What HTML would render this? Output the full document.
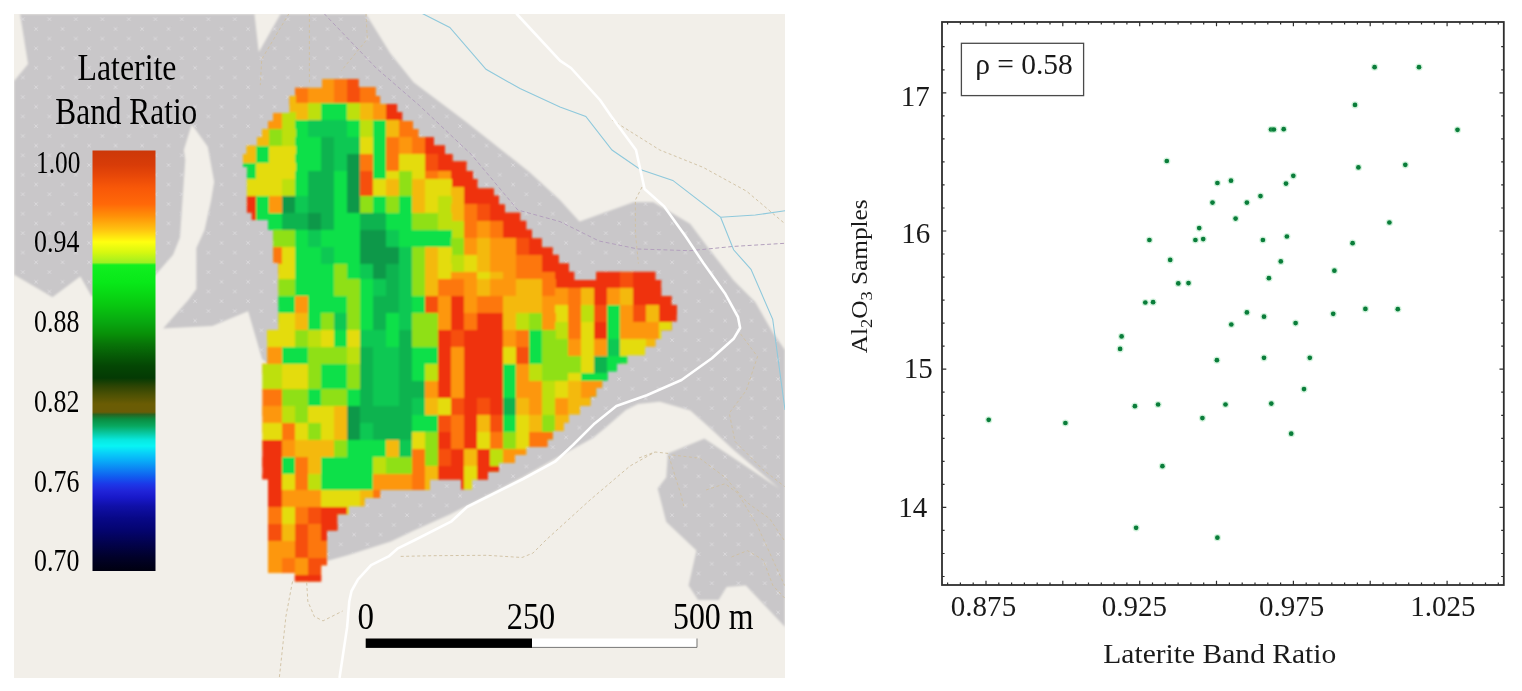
<!DOCTYPE html>
<html lang="en">
<head>
<meta charset="utf-8">
<title>Laterite Band Ratio</title>
<style>
html,body{margin:0;padding:0;background:#fff;}
body{width:1522px;height:691px;overflow:hidden;font-family:"Liberation Serif",serif;}
svg{display:block;}
</style>
</head>
<body>
<svg width="1522" height="691" viewBox="0 0 1522 691">
<rect width="1522" height="691" fill="#ffffff"/>
<defs><pattern id="xp" width="26.5" height="19.45" patternUnits="userSpaceOnUse" patternTransform="translate(4.6 4.5)"><path d="M3.3 3.3l3.4 3.4m0-3.4l-3.4 3.4M16.55 13.025l3.4 3.4m0-3.4l-3.4 3.4" stroke="#dcdbdd" stroke-width="0.9" fill="none"/></pattern><clipPath id="mapclip"><rect x="14" y="14" width="771" height="664"/></clipPath><filter id="soft" x="-2%" y="-2%" width="104%" height="104%"><feGaussianBlur stdDeviation="1"/></filter><filter id="soft2" x="-2%" y="-2%" width="104%" height="104%"><feGaussianBlur stdDeviation="0.5"/></filter></defs>
<g clip-path="url(#mapclip)">
<rect x="14" y="14" width="771" height="664" fill="#f2efe9"/>
<g filter="url(#soft)">
<rect x="0" y="0" width="800" height="691" fill="#f2efe9"/>
<polygon points="20.0,14.0 254.5,14.0 258.8,52.0 280.5,14.0 366.0,14.0 390.5,53.4 413.6,82.3 465.7,121.4 529.4,172.0 560.0,200.0 579.5,221.6 633.8,202.0 653.3,202.0 690.2,223.8 709.7,249.8 733.6,280.2 755.3,302.0 772.7,332.3 785.0,350.0 785.0,627.0 745.8,585.6 726.7,587.0 718.7,600.0 698.0,600.0 688.5,585.6 696.4,550.6 666.2,522.0 657.6,488.5 666.2,477.3 667.8,453.4 704.4,438.5 779.2,488.5 733.6,450.0 709.7,427.8 690.2,410.4 659.8,401.7 638.0,404.0 626.0,410.0 604.0,429.0 593.0,438.0 560.0,456.0 523.0,477.0 451.0,514.0 413.0,531.0 391.0,541.6 347.0,555.6 327.0,561.0 300.0,480.0 268.0,364.0 262.0,359.0 248.1,311.3 212.5,326.0 163.0,328.6 188.2,300.0 196.3,289.0 196.3,248.0 204.5,230.0 210.9,201.0 214.1,181.8 207.7,146.8 191.8,124.5 183.9,150.0 185.3,160.0 180.0,237.4 173.2,254.7 155.0,275.6 125.0,290.0 91.6,296.4 80.3,276.4 52.5,297.3 14.0,274.7 14.0,81.0 28.0,64.0" fill="#c9c7c9"/>
</g>
<g filter="url(#soft2)">
<polygon points="20.0,14.0 254.5,14.0 258.8,52.0 280.5,14.0 366.0,14.0 390.5,53.4 413.6,82.3 465.7,121.4 529.4,172.0 560.0,200.0 579.5,221.6 633.8,202.0 653.3,202.0 690.2,223.8 709.7,249.8 733.6,280.2 755.3,302.0 772.7,332.3 785.0,350.0 785.0,627.0 745.8,585.6 726.7,587.0 718.7,600.0 698.0,600.0 688.5,585.6 696.4,550.6 666.2,522.0 657.6,488.5 666.2,477.3 667.8,453.4 704.4,438.5 779.2,488.5 733.6,450.0 709.7,427.8 690.2,410.4 659.8,401.7 638.0,404.0 626.0,410.0 604.0,429.0 593.0,438.0 560.0,456.0 523.0,477.0 451.0,514.0 413.0,531.0 391.0,541.6 347.0,555.6 327.0,561.0 300.0,480.0 268.0,364.0 262.0,359.0 248.1,311.3 212.5,326.0 163.0,328.6 188.2,300.0 196.3,289.0 196.3,248.0 204.5,230.0 210.9,201.0 214.1,181.8 207.7,146.8 191.8,124.5 183.9,150.0 185.3,160.0 180.0,237.4 173.2,254.7 155.0,275.6 125.0,290.0 91.6,296.4 80.3,276.4 52.5,297.3 14.0,274.7 14.0,81.0 28.0,64.0" fill="url(#xp)"/>
</g>
<g filter="url(#soft)">
<clipPath id="hcA"><path d="M243.0 154.2H246.7L246.7 145.4H257.0L257.0 137.3H262.0L262.0 129.0H262.2L262.2 129.0H268.0L268.0 121.0H273.0L273.0 113.0H289.5L289.5 96.0H294.6L294.6 96.0H295.0L295.0 87.8H321.2L321.2 87.8H322.0L322.0 79.0H327.0L327.0 79.0H337.4L337.4 79.0H348.5L348.5 79.0H358.8L358.8 87.0H364.7L364.7 87.0H375.8L375.8 96.0H380.2L380.2 104.0H397.1L397.1 112.2H402.3L402.3 121.0H412.6L412.6 129.1H418.5L418.5 137.3H430.0L430.0 137.3H434.0L434.0 145.4H445.0L445.0 154.2H452.5L452.5 161.6H461.0L461.0 161.6H466.5L466.5 171.2H472.0L472.0 171.2H473.0L473.0 179.3H477.5L477.5 188.4H488.0L488.0 188.4H493.8L493.8 195.7H499.0L499.0 204.6H504.8L504.8 212.7H515.0L515.0 212.7H520.3L520.3 220.8H526.2L526.2 229.7H532.0L532.0 238.5H541.7L541.7 247.4H547.6L547.6 247.4H552.8L552.8 254.8H558.7L558.7 263.6H563.9L563.9 263.6H569.0L569.0 271.7H574.2L574.2 279.9H580.0L580.0 279.9H590.4L590.4 279.9H596.3L596.3 271.7H602.2L602.2 271.7H607.4L607.4 271.7H617.0L617.0 271.7H627.3L627.3 271.7H645.0L645.0 271.7H655.3L655.3 279.9H661.2L661.2 296.3H671.6L671.6 305.1H676.8L676.8 321.4H671.6L671.6 330.2H661.2L661.2 339.0H655.3L655.3 346.4H645.0L645.0 355.3H627.3L627.3 363.4H617.0L617.0 371.5H607.4L607.4 380.4H602.2L602.2 388.0H596.3L596.3 396.8H590.4L590.4 405.7H580.0L580.0 414.5H574.2L574.2 414.5H569.0L569.0 422.6H563.9L563.9 431.0H558.7L558.7 431.0H552.8L552.8 439.6H547.6L547.6 447.0H541.7L541.7 447.0H532.0L532.0 447.0H526.2L526.2 455.0H520.3L520.3 455.0H515.0L515.0 462.9H504.8L504.8 462.9H499.0L499.0 471.7H493.8L493.8 471.7H488.0L488.0 479.8H477.5L477.5 479.8H473.0L473.0 479.8H472.0L472.0 489.4H466.5L466.5 489.4H461.0L461.0 479.8H452.5L452.5 479.8H445.0L445.0 479.8H434.0L434.0 479.8H430.0L430.0 490.0H418.5L418.5 490.0H412.6L412.6 490.0H402.3L402.3 490.0H397.1L397.1 490.0H380.2L380.2 498.0H375.8L375.8 498.0H364.7L364.7 506.2H358.8L358.8 506.2H348.5L348.5 514.3H337.4L337.4 530.5H327.0L327.0 565.2H322.0L322.0 565.2H321.2L321.2 581.4H295.0L295.0 581.4H294.6L294.6 573.3H289.5L289.5 573.3H273.0L273.0 573.3H268.0L268.0 479.4H262.2L262.2 220.0H262.0L262.0 220.0H257.0L257.0 220.0H246.7L246.7 167.0H243.0Z"/></clipPath>
<clipPath id="hcB"><path d="M700 70.0L243.0 70.0V167.0L246.7 167.0V212.7L251.8 212.7V220.0L268.0 220.0V230.0L273.2 230.0V263.0L278.4 263.0V330.0L267.3 330.0V363.4L262.2 363.4V479.4L268.0 479.4V573.3L294.6 573.3V600.0L700 600.0Z"/></clipPath>
<g clip-path="url(#hcA)"><g clip-path="url(#hcB)" shape-rendering="crispEdges">
<rect x="243.0" y="65.5" width="13.5" height="39.0" fill="#fd9709"/>
<rect x="256.0" y="65.5" width="26.5" height="39.0" fill="#f4b90c"/>
<rect x="282.0" y="65.5" width="13.5" height="39.0" fill="#fd7708"/>
<rect x="295.0" y="74.0" width="13.5" height="39.0" fill="#fd7708"/>
<rect x="308.0" y="74.0" width="26.5" height="39.0" fill="#fd9709"/>
<rect x="334.0" y="74.0" width="13.5" height="39.0" fill="#fd7708"/>
<rect x="347.0" y="74.0" width="13.5" height="39.0" fill="#f65008"/>
<rect x="360.0" y="74.0" width="26.5" height="39.0" fill="#fd7708"/>
<rect x="386.0" y="74.0" width="39.5" height="39.0" fill="#ef3207"/>
<rect x="425.0" y="74.0" width="26.5" height="39.0" fill="#fd7708"/>
<rect x="451.0" y="74.0" width="26.5" height="39.0" fill="#ef3207"/>
<rect x="243.0" y="94.5" width="26.5" height="27.0" fill="#fd9709"/>
<rect x="269.0" y="94.5" width="26.5" height="27.0" fill="#f4b90c"/>
<rect x="295.0" y="103.0" width="13.5" height="27.0" fill="#f4b90c"/>
<rect x="308.0" y="103.0" width="13.5" height="27.0" fill="#bde00a"/>
<rect x="321.0" y="103.0" width="26.5" height="27.0" fill="#0ae048"/>
<rect x="347.0" y="103.0" width="13.5" height="27.0" fill="#bde00a"/>
<rect x="360.0" y="103.0" width="13.5" height="27.0" fill="#f4b90c"/>
<rect x="373.0" y="103.0" width="13.5" height="27.0" fill="#fd9709"/>
<rect x="386.0" y="103.0" width="26.5" height="27.0" fill="#ef3207"/>
<rect x="412.0" y="103.0" width="26.5" height="27.0" fill="#fd7708"/>
<rect x="438.0" y="103.0" width="52.5" height="27.0" fill="#ef3207"/>
<rect x="243.0" y="111.5" width="13.5" height="27.0" fill="#f4b90c"/>
<rect x="256.0" y="111.5" width="26.5" height="27.0" fill="#fd9709"/>
<rect x="282.0" y="111.5" width="13.5" height="27.0" fill="#bde00a"/>
<rect x="295.0" y="120.0" width="13.5" height="27.0" fill="#0ae048"/>
<rect x="308.0" y="120.0" width="39.5" height="27.0" fill="#0cc852"/>
<rect x="347.0" y="120.0" width="13.5" height="27.0" fill="#0ae048"/>
<rect x="360.0" y="120.0" width="13.5" height="27.0" fill="#bde00a"/>
<rect x="373.0" y="120.0" width="13.5" height="27.0" fill="#0ae048"/>
<rect x="386.0" y="120.0" width="13.5" height="27.0" fill="#f4b90c"/>
<rect x="399.0" y="120.0" width="26.5" height="27.0" fill="#fd7708"/>
<rect x="425.0" y="120.0" width="78.5" height="27.0" fill="#ef3207"/>
<rect x="243.0" y="128.5" width="26.5" height="27.0" fill="#f4b90c"/>
<rect x="269.0" y="128.5" width="13.5" height="27.0" fill="#8fe012"/>
<rect x="282.0" y="128.5" width="13.5" height="27.0" fill="#bde00a"/>
<rect x="295.0" y="137.0" width="26.5" height="27.0" fill="#0ae048"/>
<rect x="321.0" y="137.0" width="13.5" height="27.0" fill="#0cb350"/>
<rect x="334.0" y="137.0" width="26.5" height="27.0" fill="#0cc852"/>
<rect x="360.0" y="137.0" width="13.5" height="27.0" fill="#e4dc08"/>
<rect x="373.0" y="137.0" width="13.5" height="27.0" fill="#0ae048"/>
<rect x="386.0" y="137.0" width="13.5" height="27.0" fill="#fd7708"/>
<rect x="399.0" y="137.0" width="13.5" height="27.0" fill="#fd9709"/>
<rect x="412.0" y="137.0" width="13.5" height="27.0" fill="#fd7708"/>
<rect x="425.0" y="137.0" width="104.5" height="27.0" fill="#ef3207"/>
<rect x="243.0" y="145.5" width="13.5" height="27.0" fill="#f4b90c"/>
<rect x="256.0" y="145.5" width="13.5" height="27.0" fill="#0ae048"/>
<rect x="269.0" y="145.5" width="26.5" height="27.0" fill="#e4dc08"/>
<rect x="295.0" y="154.0" width="26.5" height="27.0" fill="#0ae048"/>
<rect x="321.0" y="154.0" width="13.5" height="27.0" fill="#0cb350"/>
<rect x="334.0" y="154.0" width="13.5" height="27.0" fill="#0cc852"/>
<rect x="347.0" y="154.0" width="13.5" height="27.0" fill="#0c984a"/>
<rect x="360.0" y="154.0" width="13.5" height="27.0" fill="#fd7708"/>
<rect x="373.0" y="154.0" width="13.5" height="27.0" fill="#0ae048"/>
<rect x="386.0" y="154.0" width="13.5" height="27.0" fill="#fd7708"/>
<rect x="399.0" y="154.0" width="26.5" height="27.0" fill="#e4dc08"/>
<rect x="425.0" y="154.0" width="13.5" height="27.0" fill="#f65008"/>
<rect x="438.0" y="154.0" width="104.5" height="27.0" fill="#ef3207"/>
<rect x="243.0" y="162.5" width="13.5" height="27.0" fill="#0ae048"/>
<rect x="256.0" y="162.5" width="39.5" height="27.0" fill="#e4dc08"/>
<rect x="295.0" y="171.0" width="13.5" height="27.0" fill="#0ae048"/>
<rect x="308.0" y="171.0" width="26.5" height="27.0" fill="#0cb350"/>
<rect x="334.0" y="171.0" width="13.5" height="27.0" fill="#0ae048"/>
<rect x="347.0" y="171.0" width="13.5" height="27.0" fill="#0c984a"/>
<rect x="360.0" y="171.0" width="13.5" height="27.0" fill="#f65008"/>
<rect x="373.0" y="171.0" width="13.5" height="27.0" fill="#0ae048"/>
<rect x="386.0" y="171.0" width="13.5" height="27.0" fill="#e4dc08"/>
<rect x="399.0" y="171.0" width="13.5" height="27.0" fill="#8fe012"/>
<rect x="412.0" y="171.0" width="13.5" height="27.0" fill="#e4dc08"/>
<rect x="425.0" y="171.0" width="13.5" height="27.0" fill="#fd7708"/>
<rect x="438.0" y="171.0" width="13.5" height="27.0" fill="#fd9709"/>
<rect x="451.0" y="171.0" width="117.5" height="27.0" fill="#ef3207"/>
<rect x="243.0" y="178.5" width="39.5" height="27.0" fill="#e4dc08"/>
<rect x="282.0" y="178.5" width="13.5" height="27.0" fill="#bde00a"/>
<rect x="295.0" y="178.5" width="13.5" height="27.0" fill="#0ae048"/>
<rect x="308.0" y="178.5" width="26.5" height="27.0" fill="#0cb350"/>
<rect x="334.0" y="178.5" width="13.5" height="27.0" fill="#0ae048"/>
<rect x="347.0" y="178.5" width="13.5" height="27.0" fill="#0c984a"/>
<rect x="360.0" y="178.5" width="13.5" height="27.0" fill="#f65008"/>
<rect x="373.0" y="178.5" width="13.5" height="27.0" fill="#e4dc08"/>
<rect x="386.0" y="178.5" width="13.5" height="27.0" fill="#f4b90c"/>
<rect x="399.0" y="178.5" width="13.5" height="27.0" fill="#8fe012"/>
<rect x="412.0" y="178.5" width="13.5" height="27.0" fill="#f4b90c"/>
<rect x="425.0" y="178.5" width="26.5" height="27.0" fill="#e4dc08"/>
<rect x="451.0" y="187.0" width="13.5" height="27.0" fill="#f4b90c"/>
<rect x="464.0" y="187.0" width="117.5" height="27.0" fill="#ef3207"/>
<rect x="243.0" y="195.5" width="13.5" height="27.0" fill="#ef3207"/>
<rect x="256.0" y="195.5" width="13.5" height="27.0" fill="#0ae048"/>
<rect x="269.0" y="195.5" width="13.5" height="27.0" fill="#fd9709"/>
<rect x="282.0" y="195.5" width="13.5" height="27.0" fill="#0c984a"/>
<rect x="295.0" y="195.5" width="13.5" height="27.0" fill="#0cc852"/>
<rect x="308.0" y="195.5" width="26.5" height="27.0" fill="#0cb350"/>
<rect x="334.0" y="195.5" width="13.5" height="27.0" fill="#0ae048"/>
<rect x="347.0" y="195.5" width="13.5" height="27.0" fill="#0c984a"/>
<rect x="360.0" y="195.5" width="13.5" height="27.0" fill="#8fe012"/>
<rect x="373.0" y="195.5" width="13.5" height="27.0" fill="#0ae048"/>
<rect x="386.0" y="195.5" width="13.5" height="27.0" fill="#8fe012"/>
<rect x="399.0" y="195.5" width="13.5" height="27.0" fill="#0ae048"/>
<rect x="412.0" y="195.5" width="13.5" height="27.0" fill="#f4b90c"/>
<rect x="425.0" y="195.5" width="13.5" height="27.0" fill="#e4dc08"/>
<rect x="438.0" y="195.5" width="13.5" height="27.0" fill="#bde00a"/>
<rect x="451.0" y="204.0" width="13.5" height="27.0" fill="#f4b90c"/>
<rect x="464.0" y="204.0" width="13.5" height="27.0" fill="#fd7708"/>
<rect x="477.0" y="204.0" width="13.5" height="27.0" fill="#f65008"/>
<rect x="490.0" y="204.0" width="104.5" height="27.0" fill="#ef3207"/>
<rect x="243.0" y="212.5" width="13.5" height="27.0" fill="#ef3207"/>
<rect x="256.0" y="212.5" width="26.5" height="27.0" fill="#0ae048"/>
<rect x="282.0" y="212.5" width="26.5" height="27.0" fill="#0cb350"/>
<rect x="308.0" y="212.5" width="13.5" height="27.0" fill="#0c984a"/>
<rect x="321.0" y="212.5" width="13.5" height="27.0" fill="#0cb350"/>
<rect x="334.0" y="212.5" width="26.5" height="27.0" fill="#0ae048"/>
<rect x="360.0" y="212.5" width="26.5" height="27.0" fill="#0cb350"/>
<rect x="386.0" y="212.5" width="26.5" height="27.0" fill="#0ae048"/>
<rect x="412.0" y="212.5" width="26.5" height="27.0" fill="#8fe012"/>
<rect x="438.0" y="212.5" width="13.5" height="27.0" fill="#bde00a"/>
<rect x="451.0" y="221.0" width="13.5" height="27.0" fill="#bde00a"/>
<rect x="464.0" y="221.0" width="13.5" height="27.0" fill="#fd7708"/>
<rect x="477.0" y="221.0" width="13.5" height="27.0" fill="#fd9709"/>
<rect x="490.0" y="221.0" width="13.5" height="27.0" fill="#fd7708"/>
<rect x="503.0" y="221.0" width="117.5" height="27.0" fill="#ef3207"/>
<rect x="620.0" y="221.0" width="13.5" height="27.0" fill="#f65008"/>
<rect x="633.0" y="221.0" width="52.5" height="27.0" fill="#ef3207"/>
<rect x="243.0" y="229.5" width="52.5" height="27.0" fill="#8fe012"/>
<rect x="295.0" y="229.5" width="13.5" height="27.0" fill="#0ae048"/>
<rect x="308.0" y="229.5" width="13.5" height="27.0" fill="#0cc852"/>
<rect x="321.0" y="229.5" width="39.5" height="27.0" fill="#0ae048"/>
<rect x="360.0" y="229.5" width="26.5" height="27.0" fill="#0c984a"/>
<rect x="386.0" y="229.5" width="13.5" height="27.0" fill="#0cc852"/>
<rect x="399.0" y="229.5" width="52.5" height="27.0" fill="#0ae048"/>
<rect x="451.0" y="238.0" width="13.5" height="27.0" fill="#8fe012"/>
<rect x="464.0" y="238.0" width="13.5" height="27.0" fill="#fd9709"/>
<rect x="477.0" y="238.0" width="13.5" height="27.0" fill="#f4b90c"/>
<rect x="490.0" y="238.0" width="26.5" height="27.0" fill="#fd9709"/>
<rect x="516.0" y="238.0" width="13.5" height="27.0" fill="#f65008"/>
<rect x="529.0" y="238.0" width="91.5" height="27.0" fill="#ef3207"/>
<rect x="620.0" y="238.0" width="13.5" height="27.0" fill="#f65008"/>
<rect x="633.0" y="238.0" width="52.5" height="27.0" fill="#ef3207"/>
<rect x="243.0" y="246.5" width="39.5" height="27.0" fill="#fd7708"/>
<rect x="282.0" y="246.5" width="13.5" height="27.0" fill="#e4dc08"/>
<rect x="295.0" y="246.5" width="26.5" height="27.0" fill="#0ae048"/>
<rect x="321.0" y="246.5" width="13.5" height="27.0" fill="#0cc852"/>
<rect x="334.0" y="246.5" width="26.5" height="27.0" fill="#0ae048"/>
<rect x="360.0" y="246.5" width="39.5" height="27.0" fill="#0c984a"/>
<rect x="399.0" y="246.5" width="13.5" height="27.0" fill="#0cc852"/>
<rect x="412.0" y="246.5" width="13.5" height="27.0" fill="#8fe012"/>
<rect x="425.0" y="246.5" width="13.5" height="27.0" fill="#f4b90c"/>
<rect x="438.0" y="246.5" width="13.5" height="27.0" fill="#e4dc08"/>
<rect x="451.0" y="255.0" width="13.5" height="27.0" fill="#bde00a"/>
<rect x="464.0" y="255.0" width="13.5" height="27.0" fill="#e4dc08"/>
<rect x="477.0" y="255.0" width="13.5" height="27.0" fill="#f4b90c"/>
<rect x="490.0" y="255.0" width="26.5" height="27.0" fill="#fd9709"/>
<rect x="516.0" y="255.0" width="26.5" height="27.0" fill="#fd7708"/>
<rect x="542.0" y="255.0" width="78.5" height="27.0" fill="#ef3207"/>
<rect x="620.0" y="255.0" width="13.5" height="27.0" fill="#f65008"/>
<rect x="633.0" y="255.0" width="52.5" height="27.0" fill="#ef3207"/>
<rect x="243.0" y="263.5" width="26.5" height="27.0" fill="#fd7708"/>
<rect x="269.0" y="263.5" width="26.5" height="27.0" fill="#e4dc08"/>
<rect x="295.0" y="263.5" width="39.5" height="27.0" fill="#0ae048"/>
<rect x="334.0" y="263.5" width="13.5" height="27.0" fill="#8fe012"/>
<rect x="347.0" y="263.5" width="13.5" height="27.0" fill="#0ae048"/>
<rect x="360.0" y="263.5" width="13.5" height="27.0" fill="#0cc852"/>
<rect x="373.0" y="263.5" width="13.5" height="27.0" fill="#0c984a"/>
<rect x="386.0" y="263.5" width="13.5" height="27.0" fill="#0cb350"/>
<rect x="399.0" y="263.5" width="13.5" height="27.0" fill="#0cc852"/>
<rect x="412.0" y="263.5" width="13.5" height="27.0" fill="#8fe012"/>
<rect x="425.0" y="263.5" width="13.5" height="27.0" fill="#f4b90c"/>
<rect x="438.0" y="263.5" width="13.5" height="27.0" fill="#e4dc08"/>
<rect x="451.0" y="272.0" width="26.5" height="27.0" fill="#fd9709"/>
<rect x="477.0" y="272.0" width="13.5" height="27.0" fill="#e4dc08"/>
<rect x="490.0" y="272.0" width="13.5" height="27.0" fill="#f4b90c"/>
<rect x="503.0" y="272.0" width="13.5" height="27.0" fill="#fd9709"/>
<rect x="516.0" y="272.0" width="39.5" height="27.0" fill="#fd7708"/>
<rect x="555.0" y="272.0" width="65.5" height="27.0" fill="#ef3207"/>
<rect x="620.0" y="272.0" width="13.5" height="27.0" fill="#f65008"/>
<rect x="633.0" y="272.0" width="52.5" height="27.0" fill="#ef3207"/>
<rect x="243.0" y="279.4" width="13.5" height="27.0" fill="#fd7708"/>
<rect x="256.0" y="279.4" width="39.5" height="27.0" fill="#8fe012"/>
<rect x="295.0" y="279.4" width="39.5" height="27.0" fill="#0ae048"/>
<rect x="334.0" y="279.4" width="26.5" height="27.0" fill="#8fe012"/>
<rect x="360.0" y="279.4" width="13.5" height="27.0" fill="#0ae048"/>
<rect x="373.0" y="279.4" width="13.5" height="27.0" fill="#0cc852"/>
<rect x="386.0" y="279.4" width="13.5" height="27.0" fill="#0cb350"/>
<rect x="399.0" y="279.4" width="13.5" height="27.0" fill="#0cc852"/>
<rect x="412.0" y="279.4" width="13.5" height="27.0" fill="#8fe012"/>
<rect x="425.0" y="279.4" width="13.5" height="27.0" fill="#f4b90c"/>
<rect x="438.0" y="279.4" width="26.5" height="27.0" fill="#fd7708"/>
<rect x="464.0" y="279.4" width="13.5" height="27.0" fill="#fd9709"/>
<rect x="477.0" y="279.4" width="13.5" height="27.0" fill="#f4b90c"/>
<rect x="490.0" y="279.4" width="26.5" height="27.0" fill="#fd9709"/>
<rect x="516.0" y="279.4" width="26.5" height="27.0" fill="#f4b90c"/>
<rect x="542.0" y="279.4" width="13.5" height="27.0" fill="#fd7708"/>
<rect x="555.0" y="287.8" width="13.5" height="27.0" fill="#fd9709"/>
<rect x="568.0" y="287.8" width="13.5" height="27.0" fill="#fd7708"/>
<rect x="581.0" y="287.8" width="13.5" height="27.0" fill="#f4b90c"/>
<rect x="594.0" y="287.8" width="13.5" height="27.0" fill="#ef3207"/>
<rect x="607.0" y="287.8" width="13.5" height="27.0" fill="#fd9709"/>
<rect x="620.0" y="287.8" width="13.5" height="27.0" fill="#f4b90c"/>
<rect x="633.0" y="287.8" width="52.5" height="27.0" fill="#ef3207"/>
<rect x="243.0" y="296.4" width="13.5" height="27.0" fill="#e4dc08"/>
<rect x="256.0" y="296.4" width="39.5" height="27.0" fill="#0ae048"/>
<rect x="295.0" y="296.4" width="13.5" height="27.0" fill="#fd9709"/>
<rect x="308.0" y="296.4" width="39.5" height="27.0" fill="#0ae048"/>
<rect x="347.0" y="296.4" width="13.5" height="27.0" fill="#8fe012"/>
<rect x="360.0" y="296.4" width="13.5" height="27.0" fill="#0ae048"/>
<rect x="373.0" y="296.4" width="26.5" height="27.0" fill="#0cb350"/>
<rect x="399.0" y="296.4" width="13.5" height="27.0" fill="#0cc852"/>
<rect x="412.0" y="296.4" width="13.5" height="27.0" fill="#0ae048"/>
<rect x="425.0" y="296.4" width="13.5" height="27.0" fill="#f65008"/>
<rect x="438.0" y="296.4" width="13.5" height="27.0" fill="#fd9709"/>
<rect x="451.0" y="296.4" width="13.5" height="27.0" fill="#ef3207"/>
<rect x="464.0" y="296.4" width="13.5" height="27.0" fill="#fd9709"/>
<rect x="477.0" y="296.4" width="26.5" height="27.0" fill="#fd7708"/>
<rect x="503.0" y="296.4" width="39.5" height="27.0" fill="#f4b90c"/>
<rect x="542.0" y="296.4" width="13.5" height="27.0" fill="#fd9709"/>
<rect x="555.0" y="304.8" width="13.5" height="27.0" fill="#e4dc08"/>
<rect x="568.0" y="304.8" width="13.5" height="27.0" fill="#fd7708"/>
<rect x="581.0" y="304.8" width="13.5" height="27.0" fill="#bde00a"/>
<rect x="594.0" y="304.8" width="13.5" height="27.0" fill="#f65008"/>
<rect x="607.0" y="304.8" width="13.5" height="27.0" fill="#0ae048"/>
<rect x="620.0" y="304.8" width="13.5" height="27.0" fill="#fd9709"/>
<rect x="633.0" y="304.8" width="13.5" height="27.0" fill="#f65008"/>
<rect x="646.0" y="304.8" width="13.5" height="27.0" fill="#f4b90c"/>
<rect x="659.0" y="304.8" width="26.5" height="27.0" fill="#ef3207"/>
<rect x="243.0" y="313.4" width="52.5" height="27.0" fill="#e4dc08"/>
<rect x="295.0" y="313.4" width="13.5" height="27.0" fill="#f4b90c"/>
<rect x="308.0" y="313.4" width="13.5" height="27.0" fill="#0ae048"/>
<rect x="321.0" y="313.4" width="13.5" height="27.0" fill="#8fe012"/>
<rect x="334.0" y="313.4" width="13.5" height="27.0" fill="#0cc852"/>
<rect x="347.0" y="313.4" width="13.5" height="27.0" fill="#8fe012"/>
<rect x="360.0" y="313.4" width="13.5" height="27.0" fill="#0ae048"/>
<rect x="373.0" y="313.4" width="13.5" height="27.0" fill="#0cb350"/>
<rect x="386.0" y="313.4" width="13.5" height="27.0" fill="#0ae048"/>
<rect x="399.0" y="313.4" width="13.5" height="27.0" fill="#0cc852"/>
<rect x="412.0" y="313.4" width="26.5" height="27.0" fill="#8fe012"/>
<rect x="438.0" y="313.4" width="13.5" height="27.0" fill="#fd9709"/>
<rect x="451.0" y="313.4" width="13.5" height="27.0" fill="#ef3207"/>
<rect x="464.0" y="313.4" width="13.5" height="27.0" fill="#fd7708"/>
<rect x="477.0" y="313.4" width="26.5" height="27.0" fill="#ef3207"/>
<rect x="503.0" y="313.4" width="13.5" height="27.0" fill="#f4b90c"/>
<rect x="516.0" y="313.4" width="13.5" height="27.0" fill="#bde00a"/>
<rect x="529.0" y="313.4" width="13.5" height="27.0" fill="#8fe012"/>
<rect x="542.0" y="313.4" width="13.5" height="27.0" fill="#fd9709"/>
<rect x="555.0" y="321.8" width="13.5" height="27.0" fill="#bde00a"/>
<rect x="568.0" y="321.8" width="13.5" height="27.0" fill="#fd7708"/>
<rect x="581.0" y="321.8" width="13.5" height="27.0" fill="#e4dc08"/>
<rect x="594.0" y="321.8" width="13.5" height="27.0" fill="#ef3207"/>
<rect x="607.0" y="321.8" width="13.5" height="27.0" fill="#0ae048"/>
<rect x="620.0" y="321.8" width="39.5" height="27.0" fill="#fd9709"/>
<rect x="659.0" y="321.8" width="26.5" height="27.0" fill="#e4dc08"/>
<rect x="243.0" y="330.4" width="52.5" height="27.0" fill="#e4dc08"/>
<rect x="295.0" y="330.4" width="13.5" height="27.0" fill="#8fe012"/>
<rect x="308.0" y="330.4" width="13.5" height="27.0" fill="#bde00a"/>
<rect x="321.0" y="330.4" width="13.5" height="27.0" fill="#e4dc08"/>
<rect x="334.0" y="330.4" width="13.5" height="27.0" fill="#0ae048"/>
<rect x="347.0" y="330.4" width="13.5" height="27.0" fill="#e4dc08"/>
<rect x="360.0" y="330.4" width="26.5" height="27.0" fill="#0cc852"/>
<rect x="386.0" y="330.4" width="13.5" height="27.0" fill="#0ae048"/>
<rect x="399.0" y="330.4" width="13.5" height="27.0" fill="#0cb350"/>
<rect x="412.0" y="330.4" width="26.5" height="27.0" fill="#8fe012"/>
<rect x="438.0" y="330.4" width="13.5" height="27.0" fill="#ef3207"/>
<rect x="451.0" y="330.4" width="13.5" height="27.0" fill="#f65008"/>
<rect x="464.0" y="330.4" width="39.5" height="27.0" fill="#ef3207"/>
<rect x="503.0" y="330.4" width="13.5" height="27.0" fill="#fd9709"/>
<rect x="516.0" y="330.4" width="13.5" height="27.0" fill="#fd7708"/>
<rect x="529.0" y="330.4" width="13.5" height="27.0" fill="#0ae048"/>
<rect x="542.0" y="330.4" width="13.5" height="27.0" fill="#8fe012"/>
<rect x="555.0" y="338.8" width="13.5" height="27.0" fill="#8fe012"/>
<rect x="568.0" y="338.8" width="13.5" height="27.0" fill="#fd9709"/>
<rect x="581.0" y="338.8" width="13.5" height="27.0" fill="#e4dc08"/>
<rect x="594.0" y="338.8" width="13.5" height="27.0" fill="#fd9709"/>
<rect x="607.0" y="338.8" width="13.5" height="27.0" fill="#0cc852"/>
<rect x="620.0" y="338.8" width="26.5" height="27.0" fill="#e4dc08"/>
<rect x="646.0" y="338.8" width="26.5" height="27.0" fill="#f4b90c"/>
<rect x="672.0" y="338.8" width="13.5" height="27.0" fill="#e4dc08"/>
<rect x="243.0" y="347.4" width="13.5" height="27.0" fill="#bde00a"/>
<rect x="256.0" y="347.4" width="26.5" height="27.0" fill="#fd9709"/>
<rect x="282.0" y="347.4" width="26.5" height="27.0" fill="#0ae048"/>
<rect x="308.0" y="347.4" width="39.5" height="27.0" fill="#8fe012"/>
<rect x="347.0" y="347.4" width="13.5" height="27.0" fill="#bde00a"/>
<rect x="360.0" y="347.4" width="13.5" height="27.0" fill="#0cb350"/>
<rect x="373.0" y="347.4" width="26.5" height="27.0" fill="#0cc852"/>
<rect x="399.0" y="347.4" width="13.5" height="27.0" fill="#0cb350"/>
<rect x="412.0" y="347.4" width="26.5" height="27.0" fill="#0ae048"/>
<rect x="438.0" y="347.4" width="13.5" height="27.0" fill="#ef3207"/>
<rect x="451.0" y="347.4" width="13.5" height="27.0" fill="#fd9709"/>
<rect x="464.0" y="347.4" width="39.5" height="27.0" fill="#ef3207"/>
<rect x="503.0" y="347.4" width="13.5" height="27.0" fill="#e4dc08"/>
<rect x="516.0" y="347.4" width="13.5" height="27.0" fill="#f65008"/>
<rect x="529.0" y="347.4" width="13.5" height="27.0" fill="#0ae048"/>
<rect x="542.0" y="347.4" width="13.5" height="27.0" fill="#8fe012"/>
<rect x="555.0" y="355.8" width="26.5" height="27.0" fill="#8fe012"/>
<rect x="581.0" y="355.8" width="13.5" height="27.0" fill="#e4dc08"/>
<rect x="594.0" y="355.8" width="13.5" height="27.0" fill="#0cb350"/>
<rect x="607.0" y="355.8" width="39.5" height="27.0" fill="#0ae048"/>
<rect x="646.0" y="355.8" width="39.5" height="27.0" fill="#f4b90c"/>
<rect x="243.0" y="364.4" width="39.5" height="27.0" fill="#bde00a"/>
<rect x="282.0" y="364.4" width="26.5" height="27.0" fill="#e4dc08"/>
<rect x="308.0" y="364.4" width="13.5" height="27.0" fill="#8fe012"/>
<rect x="321.0" y="364.4" width="26.5" height="27.0" fill="#0ae048"/>
<rect x="347.0" y="364.4" width="13.5" height="27.0" fill="#8fe012"/>
<rect x="360.0" y="364.4" width="13.5" height="27.0" fill="#0cb350"/>
<rect x="373.0" y="364.4" width="26.5" height="27.0" fill="#0cc852"/>
<rect x="399.0" y="364.4" width="13.5" height="27.0" fill="#0cb350"/>
<rect x="412.0" y="364.4" width="13.5" height="27.0" fill="#0ae048"/>
<rect x="425.0" y="364.4" width="13.5" height="27.0" fill="#bde00a"/>
<rect x="438.0" y="364.4" width="13.5" height="27.0" fill="#ef3207"/>
<rect x="451.0" y="364.4" width="13.5" height="27.0" fill="#fd9709"/>
<rect x="464.0" y="364.4" width="39.5" height="27.0" fill="#ef3207"/>
<rect x="503.0" y="364.4" width="13.5" height="27.0" fill="#0ae048"/>
<rect x="516.0" y="364.4" width="13.5" height="27.0" fill="#fd9709"/>
<rect x="529.0" y="364.4" width="13.5" height="27.0" fill="#bde00a"/>
<rect x="542.0" y="364.4" width="13.5" height="27.0" fill="#8fe012"/>
<rect x="555.0" y="372.8" width="13.5" height="27.0" fill="#8fe012"/>
<rect x="568.0" y="372.8" width="13.5" height="27.0" fill="#e4dc08"/>
<rect x="581.0" y="372.8" width="78.5" height="27.0" fill="#0ae048"/>
<rect x="659.0" y="372.8" width="26.5" height="27.0" fill="#f4b90c"/>
<rect x="243.0" y="388.5" width="39.5" height="27.0" fill="#fd7708"/>
<rect x="282.0" y="388.5" width="26.5" height="27.0" fill="#8fe012"/>
<rect x="308.0" y="388.5" width="13.5" height="27.0" fill="#0ae048"/>
<rect x="321.0" y="388.5" width="26.5" height="27.0" fill="#8fe012"/>
<rect x="347.0" y="388.5" width="13.5" height="27.0" fill="#0ae048"/>
<rect x="360.0" y="388.5" width="13.5" height="27.0" fill="#0cb350"/>
<rect x="373.0" y="388.5" width="26.5" height="27.0" fill="#0cc852"/>
<rect x="399.0" y="388.5" width="13.5" height="27.0" fill="#0cb350"/>
<rect x="412.0" y="380.6" width="13.5" height="27.0" fill="#0cb350"/>
<rect x="425.0" y="380.6" width="13.5" height="27.0" fill="#fd9709"/>
<rect x="438.0" y="380.6" width="13.5" height="27.0" fill="#ef3207"/>
<rect x="451.0" y="380.6" width="13.5" height="27.0" fill="#fd9709"/>
<rect x="464.0" y="380.6" width="39.5" height="27.0" fill="#ef3207"/>
<rect x="503.0" y="380.6" width="13.5" height="27.0" fill="#0ae048"/>
<rect x="516.0" y="380.6" width="26.5" height="27.0" fill="#fd9709"/>
<rect x="542.0" y="380.6" width="13.5" height="27.0" fill="#bde00a"/>
<rect x="555.0" y="380.6" width="13.5" height="27.0" fill="#e4dc08"/>
<rect x="568.0" y="380.6" width="13.5" height="27.0" fill="#f4b90c"/>
<rect x="581.0" y="380.6" width="26.5" height="27.0" fill="#fd9709"/>
<rect x="607.0" y="380.6" width="65.5" height="27.0" fill="#0ae048"/>
<rect x="672.0" y="380.6" width="13.5" height="27.0" fill="#f4b90c"/>
<rect x="243.0" y="405.5" width="39.5" height="27.0" fill="#fd9709"/>
<rect x="282.0" y="405.5" width="13.5" height="27.0" fill="#bde00a"/>
<rect x="295.0" y="405.5" width="13.5" height="27.0" fill="#8fe012"/>
<rect x="308.0" y="405.5" width="26.5" height="27.0" fill="#e4dc08"/>
<rect x="334.0" y="405.5" width="13.5" height="27.0" fill="#f4b90c"/>
<rect x="347.0" y="405.5" width="13.5" height="27.0" fill="#0c984a"/>
<rect x="360.0" y="405.5" width="52.5" height="27.0" fill="#0cb350"/>
<rect x="412.0" y="397.6" width="13.5" height="27.0" fill="#0cc852"/>
<rect x="425.0" y="397.6" width="13.5" height="27.0" fill="#f4b90c"/>
<rect x="438.0" y="397.6" width="13.5" height="27.0" fill="#e4dc08"/>
<rect x="451.0" y="397.6" width="13.5" height="27.0" fill="#f65008"/>
<rect x="464.0" y="397.6" width="13.5" height="27.0" fill="#ef3207"/>
<rect x="477.0" y="397.6" width="13.5" height="27.0" fill="#f65008"/>
<rect x="490.0" y="397.6" width="13.5" height="27.0" fill="#ef3207"/>
<rect x="503.0" y="397.6" width="13.5" height="27.0" fill="#0cb350"/>
<rect x="516.0" y="397.6" width="13.5" height="27.0" fill="#f4b90c"/>
<rect x="529.0" y="397.6" width="13.5" height="27.0" fill="#fd9709"/>
<rect x="542.0" y="397.6" width="13.5" height="27.0" fill="#bde00a"/>
<rect x="555.0" y="397.6" width="13.5" height="27.0" fill="#fd9709"/>
<rect x="568.0" y="397.6" width="26.5" height="27.0" fill="#f4b90c"/>
<rect x="594.0" y="397.6" width="26.5" height="27.0" fill="#fd9709"/>
<rect x="620.0" y="397.6" width="52.5" height="27.0" fill="#0ae048"/>
<rect x="243.0" y="422.5" width="39.5" height="27.0" fill="#e4dc08"/>
<rect x="282.0" y="422.5" width="13.5" height="27.0" fill="#fd7708"/>
<rect x="295.0" y="422.5" width="13.5" height="27.0" fill="#e4dc08"/>
<rect x="308.0" y="422.5" width="13.5" height="27.0" fill="#8fe012"/>
<rect x="321.0" y="422.5" width="13.5" height="27.0" fill="#e4dc08"/>
<rect x="334.0" y="422.5" width="13.5" height="27.0" fill="#f4b90c"/>
<rect x="347.0" y="422.5" width="13.5" height="27.0" fill="#0c984a"/>
<rect x="360.0" y="422.5" width="13.5" height="27.0" fill="#0cc852"/>
<rect x="373.0" y="422.5" width="39.5" height="27.0" fill="#0cb350"/>
<rect x="412.0" y="414.6" width="26.5" height="27.0" fill="#0ae048"/>
<rect x="438.0" y="414.6" width="13.5" height="27.0" fill="#f65008"/>
<rect x="451.0" y="414.6" width="13.5" height="27.0" fill="#fd7708"/>
<rect x="464.0" y="414.6" width="13.5" height="27.0" fill="#ef3207"/>
<rect x="477.0" y="414.6" width="13.5" height="27.0" fill="#f4b90c"/>
<rect x="490.0" y="414.6" width="13.5" height="27.0" fill="#f65008"/>
<rect x="503.0" y="414.6" width="13.5" height="27.0" fill="#0ae048"/>
<rect x="516.0" y="414.6" width="13.5" height="27.0" fill="#e4dc08"/>
<rect x="529.0" y="414.6" width="13.5" height="27.0" fill="#f4b90c"/>
<rect x="542.0" y="414.6" width="13.5" height="27.0" fill="#8fe012"/>
<rect x="555.0" y="414.6" width="52.5" height="27.0" fill="#f4b90c"/>
<rect x="607.0" y="414.6" width="26.5" height="27.0" fill="#fd9709"/>
<rect x="633.0" y="414.6" width="13.5" height="27.0" fill="#0ae048"/>
<rect x="243.0" y="439.5" width="39.5" height="27.0" fill="#ef3207"/>
<rect x="282.0" y="439.5" width="13.5" height="27.0" fill="#fd9709"/>
<rect x="295.0" y="439.5" width="39.5" height="27.0" fill="#f4b90c"/>
<rect x="334.0" y="439.5" width="13.5" height="27.0" fill="#8fe012"/>
<rect x="347.0" y="439.5" width="39.5" height="27.0" fill="#0ae048"/>
<rect x="386.0" y="439.5" width="13.5" height="27.0" fill="#f4b90c"/>
<rect x="399.0" y="439.5" width="13.5" height="27.0" fill="#0cc852"/>
<rect x="412.0" y="431.6" width="13.5" height="27.0" fill="#e4dc08"/>
<rect x="425.0" y="431.6" width="13.5" height="27.0" fill="#8fe012"/>
<rect x="438.0" y="431.6" width="13.5" height="27.0" fill="#ef3207"/>
<rect x="451.0" y="431.6" width="13.5" height="27.0" fill="#fd7708"/>
<rect x="464.0" y="431.6" width="13.5" height="27.0" fill="#ef3207"/>
<rect x="477.0" y="431.6" width="13.5" height="27.0" fill="#e4dc08"/>
<rect x="490.0" y="431.6" width="13.5" height="27.0" fill="#fd7708"/>
<rect x="503.0" y="431.6" width="13.5" height="27.0" fill="#8fe012"/>
<rect x="516.0" y="431.6" width="13.5" height="27.0" fill="#e4dc08"/>
<rect x="529.0" y="431.6" width="26.5" height="27.0" fill="#fd7708"/>
<rect x="555.0" y="431.6" width="65.5" height="27.0" fill="#f4b90c"/>
<rect x="620.0" y="431.6" width="13.5" height="27.0" fill="#fd9709"/>
<rect x="243.0" y="456.5" width="39.5" height="27.0" fill="#ef3207"/>
<rect x="282.0" y="456.5" width="13.5" height="27.0" fill="#0ae048"/>
<rect x="295.0" y="456.5" width="13.5" height="27.0" fill="#fd7708"/>
<rect x="308.0" y="456.5" width="13.5" height="27.0" fill="#f4b90c"/>
<rect x="321.0" y="456.5" width="52.5" height="27.0" fill="#0ae048"/>
<rect x="373.0" y="456.5" width="13.5" height="27.0" fill="#bde00a"/>
<rect x="386.0" y="456.5" width="26.5" height="27.0" fill="#8fe012"/>
<rect x="412.0" y="448.6" width="13.5" height="27.0" fill="#fd7708"/>
<rect x="425.0" y="448.6" width="13.5" height="27.0" fill="#8fe012"/>
<rect x="438.0" y="448.6" width="13.5" height="27.0" fill="#f65008"/>
<rect x="451.0" y="448.6" width="13.5" height="27.0" fill="#ef3207"/>
<rect x="464.0" y="448.6" width="13.5" height="27.0" fill="#f4b90c"/>
<rect x="477.0" y="448.6" width="13.5" height="27.0" fill="#ef3207"/>
<rect x="490.0" y="448.6" width="13.5" height="27.0" fill="#bde00a"/>
<rect x="503.0" y="448.6" width="26.5" height="27.0" fill="#fd9709"/>
<rect x="529.0" y="448.6" width="39.5" height="27.0" fill="#fd7708"/>
<rect x="568.0" y="448.6" width="52.5" height="27.0" fill="#f4b90c"/>
<rect x="243.0" y="473.5" width="39.5" height="27.0" fill="#ef3207"/>
<rect x="282.0" y="473.5" width="13.5" height="27.0" fill="#e4dc08"/>
<rect x="295.0" y="473.5" width="13.5" height="27.0" fill="#fd7708"/>
<rect x="308.0" y="473.5" width="13.5" height="27.0" fill="#bde00a"/>
<rect x="321.0" y="473.5" width="52.5" height="27.0" fill="#0ae048"/>
<rect x="373.0" y="473.5" width="39.5" height="27.0" fill="#fd9709"/>
<rect x="412.0" y="465.6" width="13.5" height="27.0" fill="#fd7708"/>
<rect x="425.0" y="465.6" width="13.5" height="27.0" fill="#f4b90c"/>
<rect x="438.0" y="465.6" width="26.5" height="27.0" fill="#ef3207"/>
<rect x="464.0" y="465.6" width="13.5" height="27.0" fill="#e4dc08"/>
<rect x="477.0" y="465.6" width="26.5" height="27.0" fill="#ef3207"/>
<rect x="503.0" y="465.6" width="39.5" height="27.0" fill="#fd9709"/>
<rect x="542.0" y="465.6" width="39.5" height="27.0" fill="#fd7708"/>
<rect x="581.0" y="465.6" width="26.5" height="27.0" fill="#f4b90c"/>
<rect x="243.0" y="489.5" width="39.5" height="27.0" fill="#ef3207"/>
<rect x="282.0" y="489.5" width="39.5" height="27.0" fill="#fd9709"/>
<rect x="321.0" y="489.5" width="39.5" height="27.0" fill="#e4dc08"/>
<rect x="360.0" y="489.5" width="13.5" height="27.0" fill="#f4b90c"/>
<rect x="373.0" y="489.5" width="26.5" height="27.0" fill="#fd7708"/>
<rect x="399.0" y="489.5" width="13.5" height="27.0" fill="#fd9709"/>
<rect x="412.0" y="489.5" width="13.5" height="27.0" fill="#fd7708"/>
<rect x="425.0" y="489.5" width="13.5" height="27.0" fill="#f4b90c"/>
<rect x="438.0" y="489.5" width="26.5" height="27.0" fill="#ef3207"/>
<rect x="464.0" y="489.5" width="13.5" height="27.0" fill="#e4dc08"/>
<rect x="477.0" y="489.5" width="39.5" height="27.0" fill="#ef3207"/>
<rect x="516.0" y="489.5" width="39.5" height="27.0" fill="#fd9709"/>
<rect x="555.0" y="489.5" width="26.5" height="27.0" fill="#fd7708"/>
<rect x="243.0" y="506.5" width="39.5" height="27.0" fill="#fd7708"/>
<rect x="282.0" y="506.5" width="13.5" height="27.0" fill="#e4dc08"/>
<rect x="295.0" y="506.5" width="13.5" height="27.0" fill="#fd7708"/>
<rect x="308.0" y="506.5" width="13.5" height="27.0" fill="#f65008"/>
<rect x="321.0" y="506.5" width="26.5" height="27.0" fill="#ef3207"/>
<rect x="347.0" y="506.5" width="13.5" height="27.0" fill="#e4dc08"/>
<rect x="360.0" y="506.5" width="13.5" height="27.0" fill="#f4b90c"/>
<rect x="373.0" y="506.5" width="52.5" height="27.0" fill="#fd7708"/>
<rect x="425.0" y="506.5" width="13.5" height="27.0" fill="#f4b90c"/>
<rect x="438.0" y="506.5" width="26.5" height="27.0" fill="#ef3207"/>
<rect x="464.0" y="506.5" width="13.5" height="27.0" fill="#e4dc08"/>
<rect x="477.0" y="506.5" width="52.5" height="27.0" fill="#ef3207"/>
<rect x="529.0" y="506.5" width="26.5" height="27.0" fill="#fd9709"/>
<rect x="243.0" y="523.5" width="39.5" height="27.0" fill="#f65008"/>
<rect x="282.0" y="523.5" width="13.5" height="27.0" fill="#f4b90c"/>
<rect x="295.0" y="523.5" width="13.5" height="27.0" fill="#f65008"/>
<rect x="308.0" y="523.5" width="13.5" height="27.0" fill="#fd7708"/>
<rect x="321.0" y="523.5" width="39.5" height="27.0" fill="#ef3207"/>
<rect x="360.0" y="523.5" width="13.5" height="27.0" fill="#f4b90c"/>
<rect x="373.0" y="523.5" width="52.5" height="27.0" fill="#fd7708"/>
<rect x="425.0" y="523.5" width="13.5" height="27.0" fill="#f4b90c"/>
<rect x="438.0" y="523.5" width="26.5" height="27.0" fill="#ef3207"/>
<rect x="464.0" y="523.5" width="13.5" height="27.0" fill="#e4dc08"/>
<rect x="477.0" y="523.5" width="52.5" height="27.0" fill="#ef3207"/>
<rect x="243.0" y="540.5" width="52.5" height="27.0" fill="#fd9709"/>
<rect x="295.0" y="540.5" width="13.5" height="27.0" fill="#f65008"/>
<rect x="308.0" y="540.5" width="26.5" height="27.0" fill="#fd7708"/>
<rect x="334.0" y="540.5" width="39.5" height="27.0" fill="#ef3207"/>
<rect x="373.0" y="540.5" width="52.5" height="27.0" fill="#fd7708"/>
<rect x="243.0" y="557.5" width="39.5" height="27.0" fill="#fd9709"/>
<rect x="282.0" y="557.5" width="13.5" height="27.0" fill="#fd7708"/>
<rect x="295.0" y="557.5" width="13.5" height="27.0" fill="#fd9709"/>
<rect x="308.0" y="557.5" width="39.5" height="27.0" fill="#f65008"/>
<rect x="347.0" y="557.5" width="26.5" height="27.0" fill="#ef3207"/>
<rect x="243.0" y="574.5" width="39.5" height="27.0" fill="#fd9709"/>
<rect x="282.0" y="574.5" width="91.5" height="27.0" fill="#ef3207"/>
</g></g>
</g>
<g filter="url(#soft2)">
<polyline points="612.0,120.0 659.8,150.0 703.2,167.4 746.6,191.2 785.0,223.8" fill="none" stroke="#cfc0a0" stroke-width="0.9" stroke-dasharray="3 2.5"/>
<polyline points="642.0,187.0 635.4,200.0 635.4,232.6 638.4,263.6" fill="none" stroke="#cfc0a0" stroke-width="0.9" stroke-dasharray="3 2.5"/>
<polyline points="292.5,581.5 285.9,616.5 279.3,678.0" fill="none" stroke="#cfc0a0" stroke-width="0.9" stroke-dasharray="3 2.5"/>
<polyline points="306.7,582.6 307.8,601.2 314.3,616.5 323.0,620.9 342.7,611.0" fill="none" stroke="#cfc0a0" stroke-width="0.9" stroke-dasharray="3 2.5"/>
<polyline points="400.7,556.4 432.3,555.7 487.0,555.3 522.0,557.5 532.9,553.1 546.0,540.0 590.0,500.0 630.0,466.0 655.0,452.0" fill="none" stroke="#cfc0a0" stroke-width="0.9" stroke-dasharray="3 2.5"/>
<polyline points="309.4,13.5 309.4,85.0" fill="none" stroke="#cfc0a0" stroke-width="0.9" stroke-dasharray="3 2.5"/>
<polyline points="366.0,13.5 367.3,39.0 341.3,70.8" fill="none" stroke="#cfc0a0" stroke-width="0.9" stroke-dasharray="3 2.5"/>
<polyline points="289.0,13.5 261.7,59.2 260.3,85.2" fill="none" stroke="#cfc0a0" stroke-width="0.9" stroke-dasharray="3 2.5"/>
<polyline points="639.0,458.0 655.0,452.0 668.0,453.4 672.5,467.8 680.5,493.2 683.7,506.0" fill="none" stroke="#cfc0a0" stroke-width="0.9" stroke-dasharray="3 2.5"/>
<polyline points="672.5,455.0 699.6,458.2 725.0,477.3 747.4,502.8 769.7,518.7 784.6,541.0" fill="none" stroke="#cfc0a0" stroke-width="0.9" stroke-dasharray="3 2.5"/>
<polyline points="706.0,490.0 725.0,483.7 737.8,493.2 757.0,525.0 784.6,585.6" fill="none" stroke="#cfc0a0" stroke-width="0.9" stroke-dasharray="3 2.5"/>
<polyline points="731.5,557.0 747.4,550.6 763.3,560.0 772.9,585.6 784.6,598.0" fill="none" stroke="#cfc0a0" stroke-width="0.9" stroke-dasharray="3 2.5"/>
<polyline points="740.6,334.0 757.5,356.6 746.2,390.5 729.3,413.0 735.0,441.4 763.0,469.7 784.7,486.6" fill="none" stroke="#cfc0a0" stroke-width="0.9" stroke-dasharray="3 2.5"/>
<polyline points="324.0,13.5 376.0,67.9 419.4,105.5 471.5,154.7 517.8,210.0 560.0,221.6 599.0,241.0 638.0,249.0 690.0,250.7 733.6,246.4 785.0,243.3" fill="none" stroke="#b3a0bd" stroke-width="1" stroke-dasharray="4 2.5"/>
<polyline points="422.3,13.5 449.8,27.4 486.0,69.3 520.0,88.6 560.0,107.0 585.8,116.5 612.0,150.0 640.3,169.5 672.8,180.4 720.6,217.3 755.3,215.0 785.0,210.8" fill="none" stroke="#8fc9dc" stroke-width="1.1"/>
<polyline points="720.6,217.3 733.6,249.8 751.0,269.4 772.7,319.3 785.0,410.0" fill="none" stroke="#8fc9dc" stroke-width="1.1"/>
<polyline points="516.3,13.5 560.0,60.6 571.0,68.0 600.0,100.0 611.0,116.0 636.0,150.0 640.3,169.5 644.6,189.0 664.2,206.4 685.9,236.8 703.2,262.8 724.9,293.2 738.0,317.0 740.1,328.0 733.6,338.8 711.9,358.3 681.5,380.0 646.8,395.2 616.4,406.0 594.7,423.4 573.0,445.0 555.0,461.7 523.0,479.0 467.0,507.0 451.0,521.7 414.9,540.0 397.4,548.7 388.6,556.4 371.1,565.1 358.0,579.3 351.5,591.0 349.3,601.2 347.1,627.4 339.5,678.0" fill="none" stroke="#ffffff" stroke-width="2.6" stroke-linejoin="round"/>
</g>
<defs><linearGradient id="cb" x1="0" y1="0" x2="0" y2="1">
<stop offset="0.0000" stop-color="#cc3808"/>
<stop offset="0.0345" stop-color="#d83c08"/>
<stop offset="0.0606" stop-color="#e84808"/>
<stop offset="0.0892" stop-color="#f85808"/>
<stop offset="0.1272" stop-color="#ff6808"/>
<stop offset="0.1558" stop-color="#ff9008"/>
<stop offset="0.1867" stop-color="#ffc010"/>
<stop offset="0.2176" stop-color="#ffff10"/>
<stop offset="0.2414" stop-color="#d8f810"/>
<stop offset="0.2663" stop-color="#a0f020"/>
<stop offset="0.2723" stop-color="#10f020"/>
<stop offset="0.3151" stop-color="#08e818"/>
<stop offset="0.3674" stop-color="#08c810"/>
<stop offset="0.4078" stop-color="#08a810"/>
<stop offset="0.4364" stop-color="#089008"/>
<stop offset="0.4602" stop-color="#087408"/>
<stop offset="0.4863" stop-color="#065c06"/>
<stop offset="0.5125" stop-color="#044604"/>
<stop offset="0.5410" stop-color="#043a04"/>
<stop offset="0.5600" stop-color="#2c4404"/>
<stop offset="0.5791" stop-color="#4a5004"/>
<stop offset="0.6029" stop-color="#6a5c04"/>
<stop offset="0.6219" stop-color="#6a5c06"/>
<stop offset="0.6278" stop-color="#2a6420"/>
<stop offset="0.6385" stop-color="#0a8c40"/>
<stop offset="0.6552" stop-color="#08a860"/>
<stop offset="0.6718" stop-color="#08c8a0"/>
<stop offset="0.6885" stop-color="#08e8e0"/>
<stop offset="0.7027" stop-color="#08f4f4"/>
<stop offset="0.7194" stop-color="#08d0f8"/>
<stop offset="0.7360" stop-color="#08b0f8"/>
<stop offset="0.7551" stop-color="#0c88f4"/>
<stop offset="0.7741" stop-color="#1060f0"/>
<stop offset="0.7931" stop-color="#1c38e8"/>
<stop offset="0.8098" stop-color="#2024d8"/>
<stop offset="0.8264" stop-color="#1818c8"/>
<stop offset="0.8454" stop-color="#1010a8"/>
<stop offset="0.8740" stop-color="#080888"/>
<stop offset="0.9025" stop-color="#040470"/>
<stop offset="0.9382" stop-color="#020248"/>
<stop offset="0.9691" stop-color="#010128"/>
<stop offset="1.0000" stop-color="#000010"/>
</linearGradient></defs>
<rect x="92.5" y="150.5" width="63" height="420.5" fill="url(#cb)"/>
<g font-family="'Liberation Serif', serif" fill="#000">
<text x="80.4" y="172.7" font-size="32.5" text-anchor="end" textLength="44.3" lengthAdjust="spacingAndGlyphs">1.00</text>
<text x="79.4" y="252.4" font-size="32.5" text-anchor="end" textLength="45.3" lengthAdjust="spacingAndGlyphs">0.94</text>
<text x="79.4" y="332.1" font-size="32.5" text-anchor="end" textLength="45.3" lengthAdjust="spacingAndGlyphs">0.88</text>
<text x="79.4" y="411.8" font-size="32.5" text-anchor="end" textLength="45.3" lengthAdjust="spacingAndGlyphs">0.82</text>
<text x="79.4" y="491.5" font-size="32.5" text-anchor="end" textLength="45.3" lengthAdjust="spacingAndGlyphs">0.76</text>
<text x="79.4" y="571.2" font-size="32.5" text-anchor="end" textLength="45.3" lengthAdjust="spacingAndGlyphs">0.70</text>
<text x="127" y="80.2" font-size="38" text-anchor="middle" textLength="99" lengthAdjust="spacingAndGlyphs">Laterite</text>
<text x="126.3" y="123.6" font-size="38" text-anchor="middle" textLength="142" lengthAdjust="spacingAndGlyphs">Band Ratio</text>
<text x="365.8" y="628.7" font-size="38.5" text-anchor="middle" textLength="16.5" lengthAdjust="spacingAndGlyphs">0</text>
<text x="531" y="628.7" font-size="38.5" text-anchor="middle" textLength="48.5" lengthAdjust="spacingAndGlyphs">250</text>
<text x="673" y="628.7" font-size="38.5" textLength="80.5" lengthAdjust="spacingAndGlyphs">500 m</text>
</g>
<rect x="365.7" y="638.5" width="166.3" height="9.4" fill="#000"/>
<rect x="532" y="638.5" width="164.6" height="8.6" fill="#fff"/>
<path d="M532 647.4H697V638.5" fill="none" stroke="#777" stroke-width="1"/>
</g>
<rect x="942.0" y="22.0" width="561.8" height="563.0" fill="#fff" stroke="#2e2e2e" stroke-width="1.8"/>
<path d="M947.6 585.0v-2.6M947.6 22.0v2.6M960.4 585.0v-2.6M960.4 22.0v2.6M973.2 585.0v-2.6M973.2 22.0v2.6M986.0 585.0v-4.3M986.0 22.0v4.3M998.8 585.0v-2.6M998.8 22.0v2.6M1011.6 585.0v-2.6M1011.6 22.0v2.6M1024.4 585.0v-2.6M1024.4 22.0v2.6M1037.2 585.0v-2.6M1037.2 22.0v2.6M1050.0 585.0v-2.6M1050.0 22.0v2.6M1062.8 585.0v-4.3M1062.8 22.0v4.3M1075.7 585.0v-2.6M1075.7 22.0v2.6M1088.5 585.0v-2.6M1088.5 22.0v2.6M1101.3 585.0v-2.6M1101.3 22.0v2.6M1114.1 585.0v-2.6M1114.1 22.0v2.6M1126.9 585.0v-2.6M1126.9 22.0v2.6M1139.7 585.0v-4.3M1139.7 22.0v4.3M1152.5 585.0v-2.6M1152.5 22.0v2.6M1165.3 585.0v-2.6M1165.3 22.0v2.6M1178.1 585.0v-2.6M1178.1 22.0v2.6M1190.9 585.0v-2.6M1190.9 22.0v2.6M1203.7 585.0v-2.6M1203.7 22.0v2.6M1216.5 585.0v-4.3M1216.5 22.0v4.3M1229.4 585.0v-2.6M1229.4 22.0v2.6M1242.2 585.0v-2.6M1242.2 22.0v2.6M1255.0 585.0v-2.6M1255.0 22.0v2.6M1267.8 585.0v-2.6M1267.8 22.0v2.6M1280.6 585.0v-2.6M1280.6 22.0v2.6M1293.4 585.0v-4.3M1293.4 22.0v4.3M1306.2 585.0v-2.6M1306.2 22.0v2.6M1319.0 585.0v-2.6M1319.0 22.0v2.6M1331.8 585.0v-2.6M1331.8 22.0v2.6M1344.6 585.0v-2.6M1344.6 22.0v2.6M1357.4 585.0v-2.6M1357.4 22.0v2.6M1370.2 585.0v-4.3M1370.2 22.0v4.3M1383.1 585.0v-2.6M1383.1 22.0v2.6M1395.9 585.0v-2.6M1395.9 22.0v2.6M1408.7 585.0v-2.6M1408.7 22.0v2.6M1421.5 585.0v-2.6M1421.5 22.0v2.6M1434.3 585.0v-2.6M1434.3 22.0v2.6M1447.1 585.0v-4.3M1447.1 22.0v4.3M1459.9 585.0v-2.6M1459.9 22.0v2.6M1472.7 585.0v-2.6M1472.7 22.0v2.6M1485.5 585.0v-2.6M1485.5 22.0v2.6M1498.3 585.0v-2.6M1498.3 22.0v2.6M942.0 46.7h2.6M1503.8 46.7h-2.6M942.0 69.8h2.6M1503.8 69.8h-2.6M942.0 92.8h4.3M1503.8 92.8h-4.3M942.0 115.8h2.6M1503.8 115.8h-2.6M942.0 138.9h2.6M1503.8 138.9h-2.6M942.0 161.9h2.6M1503.8 161.9h-2.6M942.0 184.9h2.6M1503.8 184.9h-2.6M942.0 208.0h2.6M1503.8 208.0h-2.6M942.0 231.0h4.3M1503.8 231.0h-4.3M942.0 254.0h2.6M1503.8 254.0h-2.6M942.0 277.1h2.6M1503.8 277.1h-2.6M942.0 300.1h2.6M1503.8 300.1h-2.6M942.0 323.1h2.6M1503.8 323.1h-2.6M942.0 346.2h2.6M1503.8 346.2h-2.6M942.0 369.2h4.3M1503.8 369.2h-4.3M942.0 392.2h2.6M1503.8 392.2h-2.6M942.0 415.3h2.6M1503.8 415.3h-2.6M942.0 438.3h2.6M1503.8 438.3h-2.6M942.0 461.3h2.6M1503.8 461.3h-2.6M942.0 484.4h2.6M1503.8 484.4h-2.6M942.0 507.4h4.3M1503.8 507.4h-4.3M942.0 530.4h2.6M1503.8 530.4h-2.6M942.0 553.5h2.6M1503.8 553.5h-2.6M942.0 576.5h2.6M1503.8 576.5h-2.6" stroke="#2e2e2e" stroke-width="1.2" fill="none"/>
<g font-family="'Liberation Serif', serif" fill="#1a1a1a">
<text x="929.8" y="106.3" font-size="29.5" text-anchor="end" textLength="29" lengthAdjust="spacingAndGlyphs">17</text>
<text x="930.2" y="243.0" font-size="29.5" text-anchor="end" textLength="29" lengthAdjust="spacingAndGlyphs">16</text>
<text x="932.8" y="377.8" font-size="29.5" text-anchor="end" textLength="29" lengthAdjust="spacingAndGlyphs">15</text>
<text x="927.2" y="517.4" font-size="29.5" text-anchor="end" textLength="29" lengthAdjust="spacingAndGlyphs">14</text>
<text x="983.5" y="615.9" font-size="29.6" text-anchor="middle" textLength="65.3" lengthAdjust="spacingAndGlyphs">0.875</text>
<text x="1134.4" y="615.9" font-size="29.6" text-anchor="middle" textLength="65.3" lengthAdjust="spacingAndGlyphs">0.925</text>
<text x="1291.7" y="615.9" font-size="29.6" text-anchor="middle" textLength="65.3" lengthAdjust="spacingAndGlyphs">0.975</text>
<text x="1442.9" y="615.9" font-size="29.6" text-anchor="middle" textLength="65.3" lengthAdjust="spacingAndGlyphs">1.025</text>
<text x="1219.8" y="662.8" font-size="28.3" text-anchor="middle" textLength="233" lengthAdjust="spacingAndGlyphs">Laterite Band Ratio</text>
<text transform="translate(866.6 276.3) rotate(-90)" font-size="23.5" text-anchor="middle" textLength="154" lengthAdjust="spacingAndGlyphs">Al<tspan font-size="17" dy="5.5">2</tspan><tspan dy="-5.5">O</tspan><tspan font-size="17" dy="5.5">3</tspan><tspan dy="-5.5"> Samples</tspan></text>
<rect x="961.4" y="43.3" width="122.2" height="52.3" fill="#fff" stroke="#4a4a4a" stroke-width="1.3"/>
<text x="1024" y="73.5" font-size="29.5" text-anchor="middle">ρ = 0.58</text>
</g>
<g fill="#0a7d3a">
<circle cx="1166.8" cy="161.0" r="3.6" fill="#5fd080" fill-opacity="0.28"/><circle cx="1166.8" cy="161.0" r="2.35"/>
<circle cx="1217.4" cy="183.0" r="3.6" fill="#5fd080" fill-opacity="0.28"/><circle cx="1217.4" cy="183.0" r="2.35"/>
<circle cx="1231.0" cy="180.7" r="3.6" fill="#5fd080" fill-opacity="0.28"/><circle cx="1231.0" cy="180.7" r="2.35"/>
<circle cx="1212.5" cy="202.6" r="3.6" fill="#5fd080" fill-opacity="0.28"/><circle cx="1212.5" cy="202.6" r="2.35"/>
<circle cx="1235.6" cy="218.6" r="3.6" fill="#5fd080" fill-opacity="0.28"/><circle cx="1235.6" cy="218.6" r="2.35"/>
<circle cx="1374.6" cy="67.2" r="3.6" fill="#5fd080" fill-opacity="0.28"/><circle cx="1374.6" cy="67.2" r="2.35"/>
<circle cx="1419.0" cy="67.2" r="3.6" fill="#5fd080" fill-opacity="0.28"/><circle cx="1419.0" cy="67.2" r="2.35"/>
<circle cx="1355.0" cy="104.9" r="3.6" fill="#5fd080" fill-opacity="0.28"/><circle cx="1355.0" cy="104.9" r="2.35"/>
<circle cx="1271.0" cy="129.5" r="3.6" fill="#5fd080" fill-opacity="0.28"/><circle cx="1271.0" cy="129.5" r="2.35"/>
<circle cx="1273.9" cy="129.5" r="3.6" fill="#5fd080" fill-opacity="0.28"/><circle cx="1273.9" cy="129.5" r="2.35"/>
<circle cx="1283.7" cy="129.2" r="3.6" fill="#5fd080" fill-opacity="0.28"/><circle cx="1283.7" cy="129.2" r="2.35"/>
<circle cx="1457.5" cy="129.8" r="3.6" fill="#5fd080" fill-opacity="0.28"/><circle cx="1457.5" cy="129.8" r="2.35"/>
<circle cx="1358.4" cy="167.4" r="3.6" fill="#5fd080" fill-opacity="0.28"/><circle cx="1358.4" cy="167.4" r="2.35"/>
<circle cx="1405.3" cy="164.8" r="3.6" fill="#5fd080" fill-opacity="0.28"/><circle cx="1405.3" cy="164.8" r="2.35"/>
<circle cx="1293.3" cy="175.8" r="3.6" fill="#5fd080" fill-opacity="0.28"/><circle cx="1293.3" cy="175.8" r="2.35"/>
<circle cx="1286.0" cy="183.6" r="3.6" fill="#5fd080" fill-opacity="0.28"/><circle cx="1286.0" cy="183.6" r="2.35"/>
<circle cx="1260.5" cy="196.1" r="3.6" fill="#5fd080" fill-opacity="0.28"/><circle cx="1260.5" cy="196.1" r="2.35"/>
<circle cx="1246.9" cy="202.6" r="3.6" fill="#5fd080" fill-opacity="0.28"/><circle cx="1246.9" cy="202.6" r="2.35"/>
<circle cx="1389.4" cy="222.5" r="3.6" fill="#5fd080" fill-opacity="0.28"/><circle cx="1389.4" cy="222.5" r="2.35"/>
<circle cx="1199.2" cy="228.1" r="3.6" fill="#5fd080" fill-opacity="0.28"/><circle cx="1199.2" cy="228.1" r="2.35"/>
<circle cx="1149.4" cy="240.0" r="3.6" fill="#5fd080" fill-opacity="0.28"/><circle cx="1149.4" cy="240.0" r="2.35"/>
<circle cx="1195.4" cy="240.0" r="3.6" fill="#5fd080" fill-opacity="0.28"/><circle cx="1195.4" cy="240.0" r="2.35"/>
<circle cx="1203.2" cy="239.1" r="3.6" fill="#5fd080" fill-opacity="0.28"/><circle cx="1203.2" cy="239.1" r="2.35"/>
<circle cx="1170.2" cy="259.9" r="3.6" fill="#5fd080" fill-opacity="0.28"/><circle cx="1170.2" cy="259.9" r="2.35"/>
<circle cx="1178.3" cy="283.4" r="3.6" fill="#5fd080" fill-opacity="0.28"/><circle cx="1178.3" cy="283.4" r="2.35"/>
<circle cx="1188.5" cy="283.1" r="3.6" fill="#5fd080" fill-opacity="0.28"/><circle cx="1188.5" cy="283.1" r="2.35"/>
<circle cx="1145.3" cy="302.5" r="3.6" fill="#5fd080" fill-opacity="0.28"/><circle cx="1145.3" cy="302.5" r="2.35"/>
<circle cx="1153.1" cy="302.2" r="3.6" fill="#5fd080" fill-opacity="0.28"/><circle cx="1153.1" cy="302.2" r="2.35"/>
<circle cx="1231.3" cy="324.5" r="3.6" fill="#5fd080" fill-opacity="0.28"/><circle cx="1231.3" cy="324.5" r="2.35"/>
<circle cx="1121.6" cy="336.4" r="3.6" fill="#5fd080" fill-opacity="0.28"/><circle cx="1121.6" cy="336.4" r="2.35"/>
<circle cx="1120.1" cy="348.9" r="3.6" fill="#5fd080" fill-opacity="0.28"/><circle cx="1120.1" cy="348.9" r="2.35"/>
<circle cx="1216.9" cy="360.2" r="3.6" fill="#5fd080" fill-opacity="0.28"/><circle cx="1216.9" cy="360.2" r="2.35"/>
<circle cx="1262.9" cy="240.0" r="3.6" fill="#5fd080" fill-opacity="0.28"/><circle cx="1262.9" cy="240.0" r="2.35"/>
<circle cx="1286.9" cy="236.5" r="3.6" fill="#5fd080" fill-opacity="0.28"/><circle cx="1286.9" cy="236.5" r="2.35"/>
<circle cx="1352.6" cy="243.2" r="3.6" fill="#5fd080" fill-opacity="0.28"/><circle cx="1352.6" cy="243.2" r="2.35"/>
<circle cx="1280.8" cy="261.4" r="3.6" fill="#5fd080" fill-opacity="0.28"/><circle cx="1280.8" cy="261.4" r="2.35"/>
<circle cx="1334.4" cy="270.7" r="3.6" fill="#5fd080" fill-opacity="0.28"/><circle cx="1334.4" cy="270.7" r="2.35"/>
<circle cx="1268.9" cy="278.2" r="3.6" fill="#5fd080" fill-opacity="0.28"/><circle cx="1268.9" cy="278.2" r="2.35"/>
<circle cx="1246.9" cy="312.4" r="3.6" fill="#5fd080" fill-opacity="0.28"/><circle cx="1246.9" cy="312.4" r="2.35"/>
<circle cx="1264.0" cy="316.7" r="3.6" fill="#5fd080" fill-opacity="0.28"/><circle cx="1264.0" cy="316.7" r="2.35"/>
<circle cx="1295.6" cy="323.1" r="3.6" fill="#5fd080" fill-opacity="0.28"/><circle cx="1295.6" cy="323.1" r="2.35"/>
<circle cx="1333.2" cy="313.8" r="3.6" fill="#5fd080" fill-opacity="0.28"/><circle cx="1333.2" cy="313.8" r="2.35"/>
<circle cx="1365.4" cy="308.9" r="3.6" fill="#5fd080" fill-opacity="0.28"/><circle cx="1365.4" cy="308.9" r="2.35"/>
<circle cx="1397.8" cy="309.2" r="3.6" fill="#5fd080" fill-opacity="0.28"/><circle cx="1397.8" cy="309.2" r="2.35"/>
<circle cx="1264.0" cy="357.8" r="3.6" fill="#5fd080" fill-opacity="0.28"/><circle cx="1264.0" cy="357.8" r="2.35"/>
<circle cx="1309.8" cy="357.8" r="3.6" fill="#5fd080" fill-opacity="0.28"/><circle cx="1309.8" cy="357.8" r="2.35"/>
<circle cx="1304.0" cy="389.1" r="3.6" fill="#5fd080" fill-opacity="0.28"/><circle cx="1304.0" cy="389.1" r="2.35"/>
<circle cx="988.7" cy="419.8" r="3.6" fill="#5fd080" fill-opacity="0.28"/><circle cx="988.7" cy="419.8" r="2.35"/>
<circle cx="1065.4" cy="423.0" r="3.6" fill="#5fd080" fill-opacity="0.28"/><circle cx="1065.4" cy="423.0" r="2.35"/>
<circle cx="1134.9" cy="406.2" r="3.6" fill="#5fd080" fill-opacity="0.28"/><circle cx="1134.9" cy="406.2" r="2.35"/>
<circle cx="1158.1" cy="404.5" r="3.6" fill="#5fd080" fill-opacity="0.28"/><circle cx="1158.1" cy="404.5" r="2.35"/>
<circle cx="1225.5" cy="404.5" r="3.6" fill="#5fd080" fill-opacity="0.28"/><circle cx="1225.5" cy="404.5" r="2.35"/>
<circle cx="1202.4" cy="418.1" r="3.6" fill="#5fd080" fill-opacity="0.28"/><circle cx="1202.4" cy="418.1" r="2.35"/>
<circle cx="1162.4" cy="466.2" r="3.6" fill="#5fd080" fill-opacity="0.28"/><circle cx="1162.4" cy="466.2" r="2.35"/>
<circle cx="1136.1" cy="527.8" r="3.6" fill="#5fd080" fill-opacity="0.28"/><circle cx="1136.1" cy="527.8" r="2.35"/>
<circle cx="1217.4" cy="537.7" r="3.6" fill="#5fd080" fill-opacity="0.28"/><circle cx="1217.4" cy="537.7" r="2.35"/>
<circle cx="1271.3" cy="403.6" r="3.6" fill="#5fd080" fill-opacity="0.28"/><circle cx="1271.3" cy="403.6" r="2.35"/>
<circle cx="1291.2" cy="433.7" r="3.6" fill="#5fd080" fill-opacity="0.28"/><circle cx="1291.2" cy="433.7" r="2.35"/>
</g>
</svg>
</body>
</html>
